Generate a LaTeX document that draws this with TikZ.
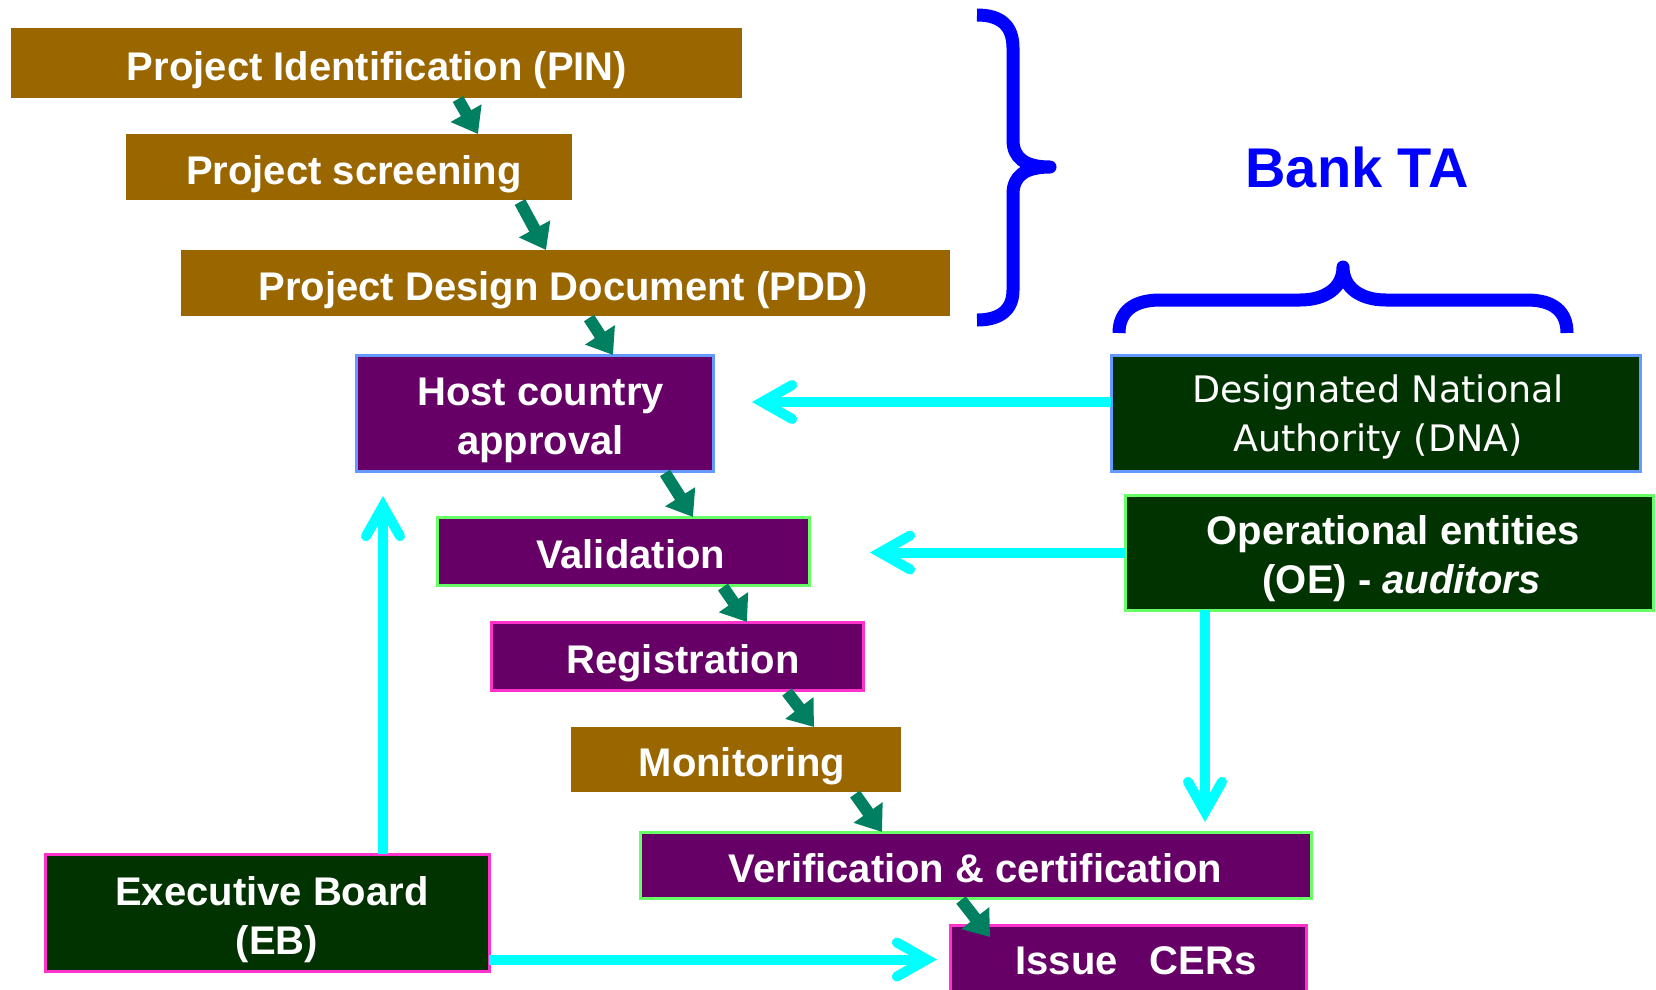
\documentclass[tikz,border=0pt]{standalone}
\usepackage{fontspec}
\setmainfont{Liberation Sans}
\newfontfamily\dnafont{DejaVu Sans}
\usetikzlibrary{arrows.meta,calc}

\definecolor{boxbrown}{HTML}{996600}
\definecolor{boxpurple}{HTML}{660066}
\definecolor{boxgreen}{HTML}{003300}
\definecolor{edgeblue}{HTML}{6699FF}
\definecolor{edgegreen}{HTML}{66FF66}
\definecolor{edgepink}{HTML}{FF33CC}
\definecolor{flowgreen}{RGB}{0,128,96}
\definecolor{linkcyan}{HTML}{00FFFF}
\definecolor{braceblue}{HTML}{0000FF}

\begin{document}
\begin{tikzpicture}[x=1pt,y=-1pt,
  box/.style={inner sep=0pt, outer sep=0pt},
  brownbox/.style={box, fill=boxbrown},
  purplebox/.style={box, fill=boxpurple, line width=3pt},
  greenbox/.style={box, fill=boxgreen, line width=3pt},
  % caption nodes are centred on the middle of the capital letters
  caption/.style={inner sep=0pt, outer sep=0pt, text=white, align=center,
    font=\fontsize{40}{49}\selectfont\bfseries,
    execute at begin node={\rule{0pt}{38.8pt}},
    execute at end node={\rule[-10pt]{0pt}{10pt}}},
  thincaption/.style={caption, font=\dnafont\fontsize{36.5}{48.6}\selectfont,
    execute at begin node={\rule{0pt}{36.6pt}}},
  flow/.style={draw=flowgreen, line width=12pt,
    -{Triangle[length=24pt,width=34pt]}},
  link/.style={draw=linkcyan, line width=10pt,
    -{Straight Barb[length=30pt,width=34pt,line cap=round,line join=miter]}},
  brace/.style={draw=braceblue, line width=13pt, line cap=butt, line join=round}]

\useasboundingbox (0,0) rectangle (1656,989);
\clip (0,0) rectangle (1656,989);
\fill[white] (0,0) rectangle (1656,989);

% project cycle steps
\node[brownbox, minimum width=731pt, minimum height=70pt] (pin) at (376,63) {};
\node[brownbox, minimum width=446pt, minimum height=66pt] (scr) at (349,167) {};
\node[brownbox, minimum width=769pt, minimum height=66pt] (pdd) at (565.5,283) {};
\node[purplebox, draw=edgeblue, minimum width=357pt, minimum height=116pt] (host) at (534.5,413) {};
\node[purplebox, draw=edgegreen, minimum width=372pt, minimum height=68pt] (val) at (623,551) {};
\node[purplebox, draw=edgepink, minimum width=372pt, minimum height=68pt] (reg) at (677,656) {};
\node[brownbox, minimum width=330pt, minimum height=65pt] (mon) at (736,759.5) {};
\node[purplebox, draw=edgegreen, minimum width=671pt, minimum height=66pt] (ver) at (975.5,865) {};
\node[purplebox, draw=edgepink, minimum width=356pt, minimum height=68pt] (iss) at (1128,959) {};

% institutions
\node[greenbox, draw=edgepink, minimum width=444pt, minimum height=117pt] (eb) at (267,912.5) {};
\node[greenbox, draw=edgeblue, minimum width=529pt, minimum height=116pt] (dna) at (1375.5,413) {};
\node[greenbox, draw=edgegreen, minimum width=528pt, minimum height=115pt] (oe) at (1389,552.5) {};

% box captions
\node[caption] (pintxt) at ([xshift=1pt,yshift=-2.6pt]pin.center) {Project Identification (PIN)};
\node[caption] (scrtxt) at ([xshift=5pt,yshift=-2.6pt]scr.center) {Project screening};
\node[caption] (pddtxt) at ([xshift=-2.5pt,yshift=-2.6pt]pdd.center) {Project Design Document (PDD)};
\node[caption] (hosttxt) at ([xshift=6pt,yshift=-7.9pt]host.center) {Host country\\approval};
\node[caption] (valtxt) at ([xshift=7.5pt,yshift=-2.6pt]val.center) {Validation};
\node[caption] (regtxt) at ([xshift=6pt,yshift=-2.6pt]reg.center) {Registration};
\node[caption] (montxt) at ([xshift=6pt,yshift=-2.6pt]mon.center) {Monitoring};
\node[caption] (vertxt) at ([xshift=0pt,yshift=-2.6pt]ver.center) {Verification \& certification};
\node[caption] (isstxt) at ([xshift=8pt,yshift=-1pt]iss.center) {Issue\hspace{0.8em}CERs};
\node[caption] (ebtxt) at ([xshift=10pt,yshift=-8.2pt]eb.center) {Executive Board\hspace*{10pt}\\(EB)};
\node[thincaption] (dnatxt) at ([xshift=2.5pt,yshift=-5pt]dna.center) {Designated National\\Authority (DNA)};
\node[caption] (oetxt) at ([xshift=12.5pt,yshift=-6.6pt]oe.center) {Operational entities\hspace*{16pt}\\(OE) - \textit{auditors}};

\node[font=\fontsize{56}{60}\selectfont\bfseries, text=braceblue] (ta) at (1357,167) {Bank TA};

% braces
\draw[brace] (977,15) .. controls (1000,15) and (1013,25) .. (1013,48) -- (1013,140)
  .. controls (1013,158) and (1025,167) .. (1050,167)
  .. controls (1025,167) and (1013,176) .. (1013,194) -- (1013,290)
  .. controls (1013,310) and (1000,320) .. (977,320);
\draw[brace] (1119,333) .. controls (1119,312) and (1133,300) .. (1160,300) -- (1300,300)
  .. controls (1325,300) and (1343,288) .. (1343,267)
  .. controls (1343,288) and (1361,300) .. (1386,300) -- (1527,300)
  .. controls (1554,300) and (1567,312) .. (1567,333);

% step-to-step flow
\draw[flow] ([xshift=82pt,yshift=-1pt]pin.south) -- ([xshift=129pt]scr.north);
\draw[flow] ([xshift=171pt,yshift=-2pt]scr.south) -- ([xshift=-19.5pt]pdd.north);
\draw[flow] ([xshift=23.5pt,yshift=-2pt]pdd.south) -- ([xshift=78.5pt]host.north);
\draw[flow] ([xshift=130.5pt,yshift=-2pt]host.south) -- ([xshift=70pt]val.north);
\draw[flow] ([xshift=100pt,yshift=-2pt]val.south) -- ([xshift=70pt]reg.north);
\draw[flow] ([xshift=110pt,yshift=-2pt]reg.south) -- ([xshift=78pt]mon.north);
\draw[flow] ([xshift=119pt,yshift=-2pt]mon.south) -- ([xshift=-93.5pt]ver.north);
\draw[flow] ([xshift=-14.5pt,yshift=-2pt]ver.south) -- ([xshift=-138pt,yshift=-12pt]iss.north);

% institutional links
\coordinate (dnaout) at ([yshift=11pt]dna.west);
\coordinate (oedown) at ([xshift=-184pt]oe.south);
\coordinate (ebup) at ([xshift=116pt]eb.north);
\coordinate (ebout) at ([yshift=-47pt]eb.east);
\draw[link] (dnaout) -- ($(dnaout -| host.east)+(39,0)$);
\draw[link] (oe.west) -- ($(oe.west -| val.east)+(61,0)$);
\draw[link] (oedown) -- ($(oedown |- ver.north)+(0,-10)$);
\draw[link] (ebup) -- ($(ebup |- host.south)+(0,25)$);
\draw[link] (ebout) -- ($(ebout -| iss.west)+(-13,0)$);
\end{tikzpicture}
\end{document}
